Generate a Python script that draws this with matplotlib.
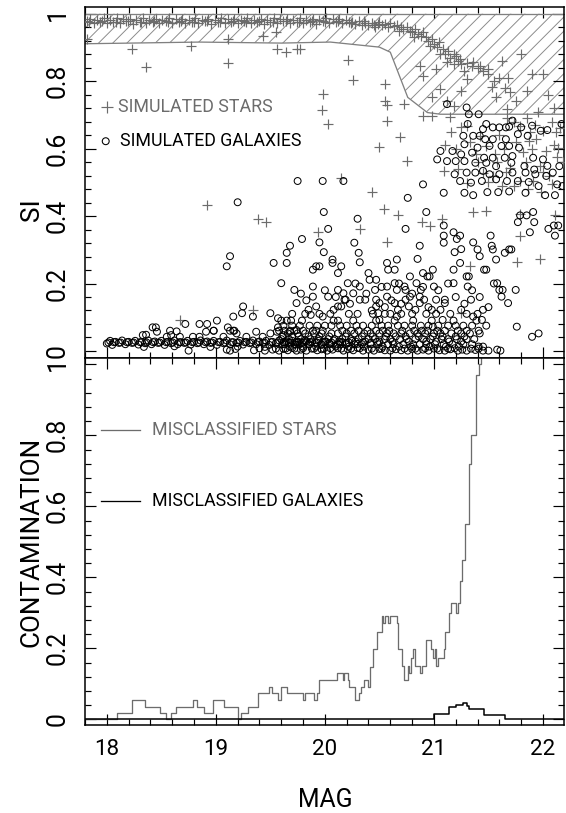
import matplotlib
matplotlib.use("Agg")
import matplotlib.pyplot as plt
from matplotlib.ticker import MultipleLocator, FixedLocator, FixedFormatter

# ---------------------------------------------------------------------------
# Data: star / galaxy index (SI) vs magnitude
# ---------------------------------------------------------------------------

# dense ridge of well-classified stars near SI = 1
star_band = [
    (17.82, .978), (17.85, .985), (17.88, .972), (17.91, .982), (17.94, .976),
    (17.97, .986), (18.00, .974), (18.03, .981), (18.06, .977), (18.09, .987),
    (18.12, .973), (18.15, .983), (18.18, .978), (18.21, .985), (18.24, .971),
    (18.27, .980), (18.30, .976), (18.33, .986), (18.36, .974), (18.39, .982),
    (18.42, .977), (18.45, .985), (18.48, .972), (18.51, .981), (18.54, .978),
    (18.57, .986), (18.60, .973), (18.63, .983), (18.66, .976), (18.69, .985),
    (18.72, .972), (18.75, .980), (18.78, .977), (18.81, .986), (18.84, .974),
    (18.87, .982), (18.90, .978), (18.93, .985), (18.96, .971), (18.99, .981),
    (19.02, .976), (19.05, .986), (19.08, .973), (19.11, .983), (19.14, .977),
    (19.17, .985), (19.20, .972), (19.23, .980), (19.26, .978), (19.29, .986),
    (19.32, .974), (19.35, .982), (19.38, .976), (19.41, .985), (19.44, .971),
    (19.47, .981), (19.50, .977), (19.53, .986), (19.56, .973), (19.59, .983),
    (19.62, .978), (19.65, .985), (19.68, .972), (19.71, .980), (19.74, .976),
    (19.77, .986), (19.80, .974), (19.83, .982), (19.86, .977), (19.89, .985),
    (19.92, .971), (19.95, .981), (19.98, .978), (20.01, .986), (20.04, .973),
    (20.07, .983), (20.10, .976), (20.13, .985), (20.16, .972), (20.19, .980),
    (20.22, .977), (20.25, .975), (20.28, .970), (20.31, .978), (20.34, .968),
    (20.37, .974), (20.40, .966), (20.43, .972), (20.46, .962), (20.49, .969),
    (17.84, .975), (17.96, .979), (18.08, .975), (18.19, .979), (18.31, .975),
    (18.43, .979), (18.56, .975), (18.68, .979), (18.80, .975), (18.92, .979),
    (19.04, .975), (19.16, .979), (19.28, .975), (19.40, .979), (19.52, .975),
    (19.64, .979), (19.76, .975), (19.88, .979), (20.00, .975), (20.12, .979),
    (20.24, .974), (20.36, .978), (20.45, .968), (20.52, .966), (20.58, .962),
    (20.50, .975), (20.55, .970), (20.60, .972), (20.63, .965), (20.66, .968),
    (20.70, .960), (20.72, .955), (20.75, .962), (20.78, .950), (20.80, .945),
    (20.83, .955), (20.85, .940), (20.88, .935), (20.90, .945), (20.93, .930),
    (20.95, .920), (20.98, .925), (21.00, .910), (21.03, .900), (21.05, .915),
    (21.08, .895), (21.10, .880), (21.13, .890), (21.15, .870), (21.20, .875),
    (21.22, .860), (21.25, .850), (21.30, .855), (21.35, .845), (21.40, .840),
    (21.45, .830), (21.50, .820), (21.55, .800), (21.60, .810), (21.65, .780),
    (20.68, .950), (20.82, .930), (20.96, .905), (21.06, .880), (21.18, .850),
]

star_scatter = [
    (17.82, .926), (18.23, .894), (18.36, .843), (18.77, .903), (19.11, .926),
    (19.11, .854), (19.43, .934), (19.55, .946), (19.56, .894), (19.64, .887),
    (19.74, .896), (19.77, .894), (20.21, .863), (20.26, .804), (19.98, .762),
    (19.97, .714), (20.03, .673), (20.55, .792), (20.55, .742), (20.57, .729),
    (20.73, .732), (20.57, .682), (20.69, .635), (20.50, .605), (20.75, .563),
    (20.15, .514), (20.43, .471), (20.87, .846), (20.90, .816), (21.02, .836),
    (21.12, .856), (21.18, .880), (21.24, .866), (21.28, .831), (21.30, .807),
    (21.36, .856), (21.42, .846), (21.50, .836), (21.53, .782), (21.57, .752),
    (21.25, .772), (21.18, .727), (21.12, .742), (21.06, .777), (20.98, .752),
    (21.67, .717), (21.70, .767), (20.90, .697), (20.98, .697), (21.15, .693),
    (21.16, .648), (21.25, .663), (21.30, .668), (21.42, .638), (21.48, .608),
    (21.56, .583), (21.67, .692), (21.73, .678), (21.79, .668), (21.88, .648),
    (21.87, .623), (21.94, .628), (22.00, .653), (22.12, .648), (22.14, .603),
    (22.18, .559), (22.03, .593), (21.97, .549), (21.91, .504), (22.06, .519),
    (21.79, .504), (21.39, .583), (21.09, .534), (21.30, .499), (21.45, .529),
    (21.54, .519), (21.70, .544), (21.73, .489), (20.54, .422), (20.67, .402),
    (19.94, .352), (20.32, .362), (20.57, .322), (20.89, .382), (20.96, .372),
    (21.07, .392), (21.36, .412), (21.48, .415), (21.33, .251), (21.79, .342),
    (21.76, .263), (21.97, .273), (22.11, .402), (21.25, .112), (21.79, .405),
    (18.92, .432), (19.39, .392), (19.46, .382), (19.34, .122), (18.67, .092),
    (21.80, .880), (21.90, .820), (22.05, .760), (21.95, .710), (21.62, .860),
    (21.85, .690), (21.93, .670), (22.08, .680), (22.16, .660), (21.60, .640),
    (21.64, .600), (21.75, .620), (21.82, .590), (21.90, .600), (22.10, .610),
    (21.58, .560), (21.66, .530), (21.84, .560), (22.00, .530), (22.13, .575),
    (21.50, .500), (21.62, .490), (21.86, .480), (22.08, .495), (21.98, .470),
    (21.20, .600), (21.33, .620), (21.40, .560), (21.22, .540), (21.10, .610),
    (21.75, .740), (21.85, .770), (22.00, .820), (22.10, .720), (21.68, .810),
]

# tight row of galaxies near SI = 0.025
gal_band = [
    (18.00, .022), (18.03, .030), (18.05, .018), (18.08, .027), (18.11, .024),
    (18.14, .031), (18.17, .020), (18.20, .027), (18.23, .024), (18.26, .030),
    (18.29, .019), (18.32, .026), (18.35, .023), (18.38, .031), (18.41, .020),
    (18.44, .028), (18.47, .024), (18.50, .030), (18.53, .018), (18.56, .027),
    (18.59, .023), (18.62, .031), (18.65, .020), (18.68, .026), (18.71, .024),
    (18.74, .030), (18.77, .019), (18.80, .027), (18.83, .023), (18.86, .031),
    (18.89, .020), (18.92, .028), (18.95, .024), (18.98, .030), (19.01, .018),
    (19.04, .027), (19.07, .023), (19.10, .031), (19.13, .020), (19.16, .026),
    (19.19, .024), (19.22, .030), (19.25, .019), (19.28, .027), (19.31, .023),
    (19.34, .031), (19.37, .020), (19.40, .028), (19.43, .024), (19.46, .030),
    (19.49, .018), (19.52, .027), (19.55, .023), (19.58, .031), (19.61, .020),
    (19.64, .026), (19.67, .024), (19.70, .030), (19.73, .019), (19.76, .027),
    (19.79, .023), (19.82, .031), (19.85, .020), (19.88, .028), (19.91, .024),
    (19.94, .030), (19.97, .018), (20.00, .027), (20.04, .023), (20.08, .031),
    (20.12, .020), (20.16, .026), (20.20, .024), (20.25, .030), (20.30, .021),
    (18.34, .012), (18.62, .014), (18.95, .012), (19.20, .013), (19.45, .012),
    (18.015, .025), (18.065, .026), (18.125, .025), (18.185, .026), (18.245, .025),
    (18.305, .026), (18.365, .025), (18.425, .026), (18.485, .025), (18.545, .026),
    (18.605, .025), (18.665, .026), (18.725, .025), (18.785, .026), (18.845, .025),
    (18.905, .026), (18.965, .025), (19.025, .026), (19.085, .025), (19.145, .026),
    (19.205, .025), (19.265, .026), (19.325, .025), (19.385, .026), (19.445, .025),
    (19.505, .026), (19.565, .025), (19.625, .026), (19.685, .025), (19.745, .026),
    (19.805, .025), (19.865, .026), (19.925, .025), (19.985, .026), (20.06, .025),
    (20.14, .026), (20.22, .025), (20.35, .026), (20.42, .024), (20.48, .027),
]

# galaxies lying on SI ~ 0
gal_floor = [
    (18.75, .001), (19.10, .004), (19.13, .001), (19.18, .006), (19.35, .002),
    (19.40, .008), (19.45, .001), (19.52, .004), (19.58, .001), (19.62, .006),
    (19.66, .002), (19.70, .009), (19.74, .001), (19.78, .004), (19.83, .001),
    (19.88, .007), (19.93, .002), (19.97, .005), (20.02, .001), (20.07, .004),
    (20.12, .008), (20.17, .001), (20.21, .005), (20.26, .002), (20.30, .009),
    (20.35, .001), (20.40, .004), (20.45, .001), (20.50, .006), (20.55, .002),
    (20.60, .001), (20.65, .005), (20.70, .002), (20.76, .001), (20.80, .006),
    (20.85, .001), (20.90, .004), (20.95, .001), (21.00, .007), (21.05, .002),
    (21.10, .001), (21.15, .005), (21.22, .001), (21.26, .004), (21.30, .001),
    (21.38, .003), (21.45, .001), (21.50, .001), (21.58, .004), (21.61, .001),
    (19.55, .007), (19.64, .007), (19.72, .007), (19.80, .008), (19.90, .007),
    (19.99, .007), (20.05, .008), (20.15, .007), (20.24, .007), (20.32, .008),
    (20.43, .007), (20.52, .007), (20.62, .008), (20.73, .007), (20.83, .007),
    (20.92, .008), (21.03, .007), (21.13, .007), (21.19, .008), (21.34, .007),
    (21.41, .007),
]

# galaxies between SI 0.01 and 0.2
gal_low = [
    (19.60, .090), (19.65, .090), (19.69, .090), (19.79, .090), (20.08, .090),
    (20.12, .090), (20.26, .090), (20.47, .090), (20.64, .090), (20.81, .090),
    (20.98, .090), (21.18, .090), (21.39, .090),
    (19.58, .060), (19.63, .060), (19.68, .060), (19.72, .060), (19.80, .060),
    (19.89, .060), (19.92, .060), (19.98, .060), (20.16, .060), (20.24, .060),
    (20.31, .060), (20.39, .060), (20.47, .060), (20.53, .060), (20.59, .060),
    (20.71, .060), (20.82, .060), (20.89, .060), (20.94, .060), (21.03, .060),
    (21.10, .060), (21.22, .060), (21.30, .060), (21.41, .060),
    (19.61, .043), (19.70, .043), (19.76, .043), (19.85, .043), (19.95, .043),
    (20.04, .043), (20.19, .043), (20.34, .043), (20.44, .043), (20.56, .043),
    (20.65, .043), (20.74, .043), (20.86, .043), (20.99, .043), (21.08, .043),
    (21.20, .043), (21.28, .043),
    (19.65, .028), (19.74, .028), (19.83, .028), (20.01, .028), (20.13, .028),
    (20.28, .028), (20.37, .028), (20.50, .028), (20.62, .028), (20.77, .028),
    (20.93, .028), (21.02, .028), (21.14, .028), (21.25, .028),
    (19.68, .013), (19.80, .013), (19.92, .013), (20.10, .013), (20.22, .013),
    (20.36, .013), (20.53, .013), (20.68, .013), (20.79, .013), (20.96, .013),
    (21.11, .013), (21.23, .013), (21.41, .013), (21.45, .013),
    (18.33, .047), (18.46, .057), (18.55, .042), (18.59, .047), (18.67, .042),
    (18.79, .042), (18.85, .042), (18.91, .057), (18.98, .060), (19.07, .042),
    (19.13, .060), (19.16, .060), (19.19, .052), (19.28, .042), (19.37, .057),
    (19.43, .042), (19.50, .052), (19.56, .057), (19.62, .047), (19.68, .057),
    (19.74, .062), (18.36, .048), (18.42, .070), (18.45, .070), (18.58, .060),
    (18.64, .058), (18.72, .080), (18.85, .080), (18.92, .080), (18.98, .060),
    (19.01, .090), (19.11, .070), (19.17, .060), (19.57, .070), (21.90, .042),
    (21.96, .052), (21.76, .072), (20.99, .072), (21.08, .092), (21.44, .092),
    (20.50, .092), (20.66, .102), (21.36, .102),
    (19.62, .075), (19.70, .075), (19.77, .075), (19.86, .075), (19.93, .075),
    (20.00, .075), (20.06, .075), (20.14, .075), (20.20, .075), (20.29, .075),
    (20.35, .075), (20.43, .075), (20.52, .075), (20.58, .075), (20.67, .075),
    (20.73, .075), (20.80, .075), (20.88, .075), (20.95, .075), (21.04, .075),
    (21.13, .075), (21.20, .075), (21.27, .075), (21.35, .075), (21.48, .075),
    (19.66, .052), (19.75, .052), (19.82, .052), (19.90, .052), (19.97, .052),
    (20.06, .052), (20.12, .052), (20.20, .052), (20.27, .052), (20.36, .052),
    (20.42, .052), (20.50, .052), (20.57, .052), (20.63, .052), (20.70, .052),
    (20.78, .052), (20.85, .052), (20.92, .052), (21.00, .052), (21.06, .052),
    (21.16, .052), (21.25, .052), (21.33, .052), (21.42, .052),
    (19.60, .035), (19.67, .035), (19.78, .035), (19.87, .035), (19.94, .035),
    (20.03, .035), (20.09, .035), (20.16, .035), (20.24, .035), (20.31, .035),
    (20.40, .035), (20.46, .035), (20.55, .035), (20.60, .035), (20.69, .035),
    (20.75, .035), (20.83, .035), (20.90, .035), (20.97, .035), (21.07, .035),
    (21.13, .035), (21.21, .035), (21.30, .035), (21.37, .035),
    (19.63, .020), (19.72, .020), (19.77, .020), (19.86, .020), (19.97, .020),
    (20.05, .020), (20.14, .020), (20.19, .020), (20.27, .020), (20.34, .020),
    (20.42, .020), (20.49, .020), (20.58, .020), (20.63, .020), (20.72, .020),
    (20.81, .020), (20.87, .020), (20.93, .020), (21.01, .020), (21.09, .020),
    (21.17, .020), (21.27, .020), (21.35, .020),
    (19.70, .110), (19.82, .110), (19.95, .110), (20.05, .110), (20.22, .110),
    (20.30, .110), (20.44, .110), (20.55, .110), (20.60, .110), (20.70, .110),
    (20.80, .110), (20.93, .110), (21.02, .110), (21.15, .110), (21.30, .110),
    (21.40, .110),
    (19.78, .170), (19.83, .150), (20.00, .180), (20.10, .160), (20.23, .140),
    (20.28, .200), (20.38, .170), (20.43, .120), (20.52, .190), (20.55, .130),
    (20.61, .150), (20.68, .200), (20.70, .140), (20.80, .170), (20.90, .190),
    (20.95, .130), (21.04, .180), (21.13, .200), (21.20, .160), (21.28, .140),
    (21.35, .180), (21.42, .160), (21.50, .130), (21.55, .200),
]

# scattered galaxies above SI 0.1
gal_scatter = [
    (19.10, .251), (19.13, .281), (19.16, .102), (19.20, .441), (19.25, .132),
    (19.24, .112), (19.34, .102), (19.50, .112), (19.53, .261), (19.60, .201),
    (19.65, .291), (19.65, .261), (19.68, .312), (19.72, .181), (19.74, .142),
    (19.57, .097), (19.99, .412), (20.03, .362), (19.95, .322), (19.99, .293),
    (19.79, .332), (19.89, .241), (19.92, .251), (19.95, .251), (19.89, .191),
    (19.89, .161), (19.85, .122), (19.87, .107), (19.92, .132), (19.98, .102),
    (20.03, .161), (20.07, .271), (20.07, .261), (20.12, .231), (20.15, .251),
    (20.12, .181), (20.17, .171), (20.18, .152), (20.08, .122), (20.12, .132),
    (20.15, .132), (20.19, .152), (20.21, .201), (20.26, .171), (20.27, .321),
    (20.30, .392), (20.31, .291), (20.32, .263), (20.32, .191), (20.32, .152),
    (20.37, .152), (20.40, .231), (20.41, .211), (20.47, .211), (20.46, .181),
    (20.47, .152), (20.47, .132), (20.50, .142), (20.49, .112), (20.57, .261),
    (20.58, .241), (20.57, .191), (20.57, .161), (20.64, .241), (20.66, .271),
    (20.64, .201), (20.66, .181), (20.64, .142), (20.67, .122), (20.74, .362),
    (20.73, .191), (20.74, .181), (20.74, .152), (20.78, .161), (20.77, .132),
    (20.78, .221), (20.84, .201), (20.85, .273), (20.87, .312), (20.83, .122),
    (20.87, .161), (20.87, .142), (20.88, .181), (20.90, .231), (20.91, .152),
    (20.93, .412), (20.94, .221), (20.96, .221), (20.98, .122), (20.99, .241),
    (21.00, .191), (21.02, .152), (21.09, .372), (21.09, .342), (21.09, .321),
    (21.06, .122), (21.10, .152), (21.10, .142), (21.18, .352), (21.19, .293),
    (21.18, .241), (21.18, .201), (21.21, .332), (21.24, .342), (21.25, .302),
    (21.24, .261), (21.25, .122), (21.30, .221), (21.31, .191), (21.32, .221),
    (21.36, .322), (21.34, .152), (21.40, .301), (21.42, .281), (21.45, .122),
    (21.46, .241), (21.48, .241), (21.52, .342), (21.53, .312), (21.54, .301),
    (21.57, .271), (21.58, .201), (21.60, .181), (21.63, .181), (21.62, .161),
    (21.68, .142), (21.69, .301), (21.65, .291), (21.71, .301), (21.75, .181),
    (21.77, .382), (21.79, .402), (21.85, .402), (21.91, .412), (21.88, .352),
    (21.92, .382), (22.05, .362), (22.10, .372), (22.11, .342), (22.14, .372),
    (21.12, .732), (21.30, .722), (21.32, .702), (21.41, .702), (21.31, .673),
    (21.48, .673), (21.45, .658), (21.54, .663), (21.60, .663), (21.66, .663),
    (21.69, .665), (21.72, .683), (21.80, .663), (21.90, .668), (21.98, .653),
    (22.04, .655), (22.17, .673), (21.27, .638), (21.36, .638), (21.42, .638),
    (21.47, .628), (21.54, .628), (21.66, .628), (21.77, .643), (21.86, .638),
    (21.28, .613), (21.40, .603), (21.51, .608), (21.62, .608), (21.69, .608),
    (21.78, .603), (21.06, .593), (21.17, .593), (21.25, .583), (21.35, .588),
    (21.46, .573), (21.54, .573), (21.65, .573), (21.72, .578), (21.91, .573),
    (22.00, .568), (22.04, .549), (21.03, .568), (21.12, .563), (21.20, .563),
    (21.28, .563), (21.38, .558), (21.48, .558), (21.57, .548), (21.71, .558),
    (21.83, .548), (21.92, .538), (22.09, .529), (22.15, .548), (21.19, .524),
    (21.30, .529), (21.38, .529), (21.45, .534), (21.51, .524), (21.60, .524),
    (21.72, .529), (21.84, .529), (21.93, .524), (22.03, .519), (21.24, .504),
    (21.34, .499), (21.44, .504), (21.57, .509), (21.67, .504), (21.77, .504),
    (21.87, .501), (21.96, .489), (22.13, .494), (22.18, .489), (19.75, .504),
    (19.98, .504), (20.17, .504), (20.76, .454), (20.90, .494), (21.09, .469),
    (21.28, .469), (21.36, .462), (21.49, .471), (21.59, .471), (21.69, .473),
    (21.84, .469), (22.02, .462), (22.11, .462),
]

# lower edge of the hatched star-classification zone
zone_mag = [17.80, 18.85, 19.60, 20.05, 20.50, 20.60, 20.76, 20.94, 21.06, 22.20]
zone_si = [0.911, 0.916, 0.913, 0.916, 0.901, 0.886, 0.752, 0.707, 0.702, 0.702]

# contamination curves (step functions)
cont_star_mag = [
    17.80, 18.093, 18.235, 18.348, 18.49, 18.546, 18.593, 18.639, 18.795,
    18.831, 18.887, 18.977, 19.076, 19.202, 19.228, 19.295, 19.384, 19.483,
    19.517, 19.573, 19.593, 19.649, 19.798, 19.815, 19.897, 19.93, 19.947,
    20.113, 20.162, 20.179, 20.212, 20.222, 20.278, 20.311, 20.328, 20.361,
    20.394, 20.411, 20.444, 20.477, 20.526, 20.536, 20.553, 20.576, 20.593,
    20.659, 20.675, 20.709, 20.725, 20.758, 20.775, 20.791, 20.808, 20.825,
    20.874, 20.891, 20.924, 20.974, 20.99, 21.007, 21.023, 21.04, 21.089,
    21.106, 21.139, 21.156, 21.205, 21.222, 21.238, 21.262, 21.288, 21.32,
    21.338, 21.387, 21.41, 21.43,
]
cont_star = [
    0.0, 0.017, 0.054, 0.036, 0.017, 0.0, 0.017, 0.036, 0.054,
    0.036, 0.017, 0.054, 0.036, 0.0, 0.017, 0.036, 0.073, 0.09,
    0.073, 0.054, 0.09, 0.073, 0.054, 0.073, 0.054, 0.073, 0.111,
    0.13, 0.111, 0.13, 0.111, 0.09, 0.054, 0.073, 0.09, 0.111,
    0.09, 0.148, 0.197, 0.247, 0.29, 0.27, 0.29, 0.27, 0.29,
    0.27, 0.197, 0.15, 0.111, 0.15, 0.13, 0.172, 0.197, 0.15,
    0.13, 0.15, 0.223, 0.197, 0.172, 0.197, 0.15, 0.172, 0.197,
    0.247, 0.30, 0.327, 0.30, 0.327, 0.39, 0.45, 0.55, 0.72,
    0.80, 0.97, 1.0, 1.1,
]
cont_gal_mag = [17.80, 21.00, 21.14, 21.20, 21.27, 21.30, 21.32, 21.46, 21.65, 22.20]
cont_gal = [0.0, 0.014, 0.034, 0.040, 0.046, 0.038, 0.030, 0.012, 0.0, 0.0]

STAR_GREY = "#6c6c6c"
FONT = ["Roboto", "DejaVu Sans"]

# ---------------------------------------------------------------------------
# Figure
# ---------------------------------------------------------------------------

DPI = 85
plt.rcParams["font.family"] = FONT
plt.rcParams["hatch.linewidth"] = 0.8
plt.rcParams["axes.linewidth"] = 1.3

fig = plt.figure(figsize=(566 / DPI, 813 / DPI), dpi=DPI)
W, H = 566.0, 813.0


def px_axes(x0, y0, x1, y1):
    return fig.add_axes([x0 / W, 1 - y1 / H, (x1 - x0) / W, (y1 - y0) / H])


ax_si = px_axes(85, 7, 564, 357.7)
ax_ct = px_axes(85, 357.7, 564, 725)

XLIM = (17.8, 22.193)


def style(ax, ylim, show_x):
    ax.set_xlim(*XLIM)
    ax.set_ylim(*ylim)
    ax.xaxis.set_major_locator(FixedLocator([18, 19, 20, 21, 22]))
    ax.xaxis.set_minor_locator(MultipleLocator(0.2))
    ax.yaxis.set_major_locator(FixedLocator([0, 0.2, 0.4, 0.6, 0.8, 1.0]))
    ax.yaxis.set_major_formatter(FixedFormatter(["0", "0.2", "0.4", "0.6", "0.8", "1"]))
    ax.yaxis.set_minor_locator(MultipleLocator(0.04))
    ax.tick_params(which="both", direction="in", top=True, right=True, width=1.0)
    ax.tick_params(which="major", length=9.3)
    ax.tick_params(which="minor", length=5.0)
    ax.tick_params(axis="y", labelrotation=90, labelsize=21, pad=13)
    ax.tick_params(axis="x", labelsize=19, pad=12, labelbottom=show_x)
    for lab in ax.get_yticklabels():
        lab.set_verticalalignment("center")


style(ax_si, (-0.02, 1.02), False)
style(ax_ct, (-0.016, 1.0186), True)

# hatched zone where objects are classified as stars
poly_x = zone_mag + [zone_mag[-1], zone_mag[0]]
poly_y = zone_si + [1.0, 1.0]
ax_si.fill(poly_x, poly_y, facecolor="none", edgecolor="#8a8a8a",
           hatch="//", linewidth=0, zorder=1)
ax_si.plot(zone_mag, zone_si, color="#808080", lw=1.1, zorder=2)
ax_si.plot([zone_mag[0], zone_mag[-1]], [1.0, 1.0], color="#808080", lw=1.1, zorder=2)

stars = star_band + star_scatter
galaxies = gal_band + gal_floor + gal_low + gal_scatter
ax_si.scatter([m for m, s in stars], [s for m, s in stars], marker="+",
              s=70, linewidths=1.0, color=STAR_GREY, zorder=3)
ax_si.scatter([m for m, s in galaxies], [s for m, s in galaxies], marker="o",
              s=34, facecolors="none", edgecolors="black", linewidths=0.85, zorder=4)

# key
ax_si.scatter([18.00], [0.723], marker="+", s=110, linewidths=1.0, color=STAR_GREY)
ax_si.text(18.10, 0.723, "SIMULATED STARS", color=STAR_GREY, fontsize=15,
           va="center", ha="left")
ax_si.scatter([17.99], [0.622], marker="o", s=34, facecolors="none",
              edgecolors="black", linewidths=0.9)
ax_si.text(18.12, 0.622, "SIMULATED GALAXIES", color="black", fontsize=15,
           va="center", ha="left")

# contamination
ax_ct.plot(cont_star_mag, cont_star, drawstyle="steps-post", color=STAR_GREY, lw=1.1)
ax_ct.plot(cont_gal_mag, cont_gal, drawstyle="steps-post", color="black", lw=1.3)
ax_ct.plot([17.945, 18.30], [0.815, 0.815], color=STAR_GREY, lw=1.1)
ax_ct.text(18.41, 0.815, "MISCLASSIFIED STARS", color=STAR_GREY, fontsize=15,
           va="center", ha="left")
ax_ct.plot([17.945, 18.30], [0.615, 0.615], color="black", lw=1.1)
ax_ct.text(18.41, 0.615, "MISCLASSIFIED GALAXIES", color="black", fontsize=15,
           va="center", ha="left")

# axis titles
fig.text(32 / W, 1 - 210 / H, "SI", rotation=90, fontsize=22, ha="center", va="center")
fig.text(32 / W, 1 - 542 / H, "CONTAMINATION", rotation=90, fontsize=22,
         ha="center", va="center")
fig.text(325 / W, 1 - 800 / H, "MAG", fontsize=21, ha="center", va="center")

fig.savefig("out.png", dpi=DPI)
